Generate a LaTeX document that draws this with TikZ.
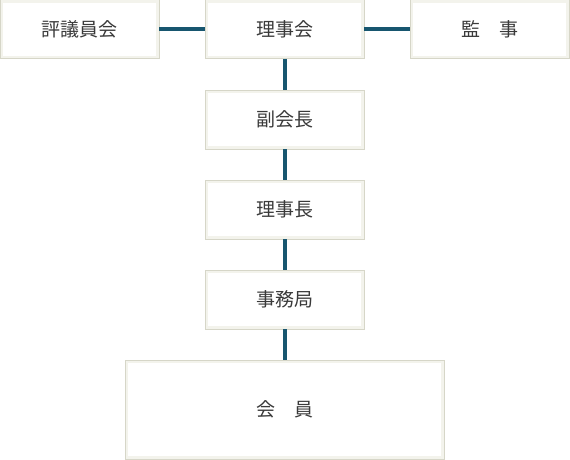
\documentclass[tikz,border=0pt]{standalone}
\usepackage{fontspec}
\newfontfamily\cjk{Noto Sans CJK JP}
\usepackage{tikz}
\definecolor{linecol}{HTML}{17566F}
\definecolor{boxline}{HTML}{D6D6C8}
\definecolor{boxglow}{HTML}{F3F3EC}
\definecolor{textcol}{HTML}{3A3A3A}

\begin{document}
\begin{tikzpicture}[x=1pt,y=-1pt]


 \tikzset{
    box/.style={
      rectangle,
      minimum width=159pt,
      minimum height=59pt,
      inner sep=0mm,
      outer sep=0mm,
      fill=white,
      draw=boxline,
      line width=1pt,
      text=textcol,
      font=\cjk\fontsize{19}{19}\selectfont,
      path picture={\draw[line width=6pt, boxglow]
        (path picture bounding box.south west) rectangle (path picture bounding box.north east);}
    },
    bigbox/.style={
      box,
      minimum width=319pt,
      minimum height=99pt
    },
    link/.style={
      draw=linecol,
      line width=4pt
    }
  }

\useasboundingbox (0,0) rectangle (570,460);

\node[box] (hyogi) at (79.5,29.5) {評議員会};
\node[box] (rijikai) at (284.5,29.5) {理事会};
\node[box] (kanji) at (489.5,29.5) {監　事};
\node[box] (fuku) at (284.5,119.5) {副会長};
\node[box] (rijicho) at (284.5,209.5) {理事長};
\node[box] (jimu) at (284.5,299.5) {事務局};
\node[bigbox] (kaiin) at (284.5,409.5) {会　員};

\draw[link] (hyogi) -- (rijikai);
\draw[link] (rijikai) -- (kanji);
\draw[link] (rijikai) -- (fuku);
\draw[link] (fuku) -- (rijicho);
\draw[link] (rijicho) -- (jimu);
\draw[link] (jimu) -- (kaiin);

\end{tikzpicture}
\end{document}
